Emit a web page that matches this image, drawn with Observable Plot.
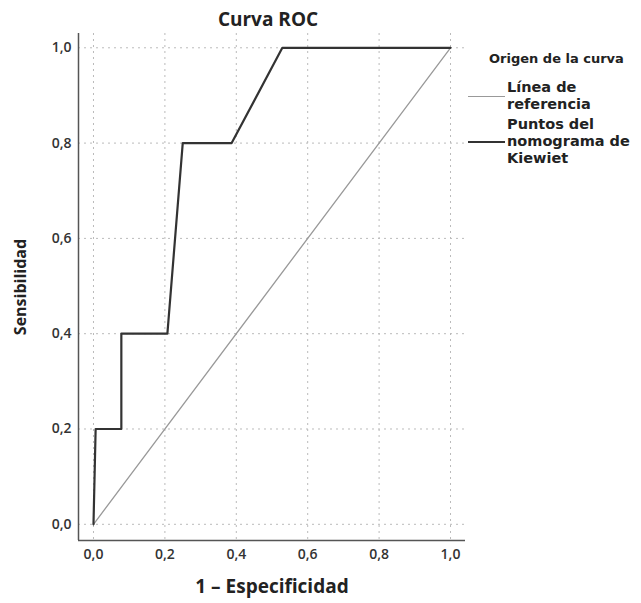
<!DOCTYPE html>
<html><head><meta charset="utf-8">
<script src="https://cdn.jsdelivr.net/npm/d3@7"></script>
<script src="https://cdn.jsdelivr.net/npm/@observablehq/plot@0.6"></script>
<style>
body{margin:0;background:#fff;font-family:"Open Sans",Lato,sans-serif;}
#wrap{position:relative;width:641px;height:603px;}
#title{height:30px;width:470px;position:relative;}
#title span{position:absolute;left:268px;top:19px;transform:translate(-50%,-50%);font-weight:700;font-size:19px;color:#222;white-space:nowrap;}
#legend{position:absolute;left:468px;top:49px;width:173px;color:#222;font-family:"DejaVu Sans",sans-serif;}
#legend .lt{font-weight:700;font-size:13px;margin-left:21px;line-height:20px;height:20px;margin-bottom:10px;white-space:nowrap;}
#legend .item{display:flex;align-items:center;margin-bottom:3px;}
#legend .sw{width:37px;height:0;margin-right:2px;}
#legend .tx{font-size:14.5px;line-height:17px;font-weight:700;white-space:nowrap;}
</style></head>
<body>
<div id="wrap">
<div id="title"><span></span></div>
<div id="chart"></div>
<div id="legend"></div>
</div>
<script>
const titleText = "Curva ROC";
const xLabel = "1 – Especificidad";
const yLabel = "Sensibilidad";
const legendTitle = "Origen de la curva";
const seriesNames = ["Línea de referencia", "Puntos del nomograma de Kiewiet"];
const tickValues = [0, 0.2, 0.4, 0.6, 0.8, 1.0];
const refFpr = [0, 1];
const refTpr = [0, 1];
const rocFpr = [0, 0.006, 0.078, 0.078, 0.207, 0.25, 0.387, 0.529, 1];
const rocTpr = [0, 0.2, 0.2, 0.4, 0.4, 0.8, 0.8, 1.0, 1.0];
const xDomain = [-0.042, 1.042];
const yDomain = [-0.034, 1.03];

const refData = refFpr.map((x, i) => ({x, y: refTpr[i]}));
const rocData = rocFpr.map((x, i) => ({x, y: rocTpr[i]}));
const fmt = d => d.toFixed(1).replace(".", ",");

document.querySelector("#title span").textContent = titleText;

const chart = Plot.plot({
  width: 470,
  height: 573,
  marginLeft: 78,
  marginRight: 5,
  marginTop: 3,
  marginBottom: 63,
  style: {fontFamily: "'Open Sans', Lato, sans-serif", color: "#333", background: "#fff"},
  x: {domain: xDomain},
  y: {domain: yDomain},
  marks: [
    Plot.gridX(tickValues, {stroke: "#bbb", strokeOpacity: 1, strokeDasharray: "2,4", strokeWidth: 1}),
    Plot.gridY(tickValues, {stroke: "#bbb", strokeOpacity: 1, strokeDasharray: "2,4", strokeWidth: 1}),
    Plot.axisX(tickValues, {tickSize: 0, tickPadding: 9, tickFormat: fmt, fontSize: 14, fontWeight: 600, fill: "#333",
      label: xLabel, labelArrow: "none", labelAnchor: "center", labelOffset: 52}),
    Plot.axisY(tickValues, {tickSize: 0, tickPadding: 7, tickFormat: fmt, fontSize: 14, fontWeight: 600, fill: "#333",
      label: yLabel, labelArrow: "none", labelAnchor: "center", labelOffset: 64}),
    Plot.ruleX([xDomain[0]], {stroke: "#555", strokeWidth: 1.5}),
    Plot.ruleY([yDomain[0]], {stroke: "#555", strokeWidth: 1.5}),
    Plot.line(refData, {x: "x", y: "y", stroke: "#999", strokeWidth: 1.3}),
    Plot.line(rocData, {x: "x", y: "y", stroke: "#333", strokeWidth: 2.2})
  ]
});
document.getElementById("chart").appendChild(chart);
// style axis labels (and drop any arrow)
const xl = chart.querySelector("g[aria-label='x-axis label'] text");
const yl = chart.querySelector("g[aria-label='y-axis label'] text");
if (xl) { xl.textContent = xLabel; xl.setAttribute("font-size", "19"); }
if (yl) { yl.textContent = yLabel; yl.setAttribute("font-size", "16"); }
[xl, yl].forEach(t => { if (t) { t.setAttribute("font-weight", "700"); t.setAttribute("fill", "#222"); } });

const legend = document.getElementById("legend");
const lt = document.createElement("div");
lt.className = "lt"; lt.textContent = legendTitle; legend.appendChild(lt);
const legendStyles = [{c: "#999", w: 1.3, lines: ["Línea de", "referencia"]},
                      {c: "#333", w: 2.2, lines: ["Puntos del", "nomograma de", "Kiewiet"]}];
seriesNames.forEach((name, i) => {
  const it = document.createElement("div"); it.className = "item";
  const sw = document.createElement("div"); sw.className = "sw";
  sw.style.borderTop = `${legendStyles[i].w}px solid ${legendStyles[i].c}`;
  const tx = document.createElement("div"); tx.className = "tx";
  tx.innerHTML = legendStyles[i].lines.join("<br>");
  tx.title = name;
  it.appendChild(sw); it.appendChild(tx); legend.appendChild(it);
});
</script>
</body></html>
